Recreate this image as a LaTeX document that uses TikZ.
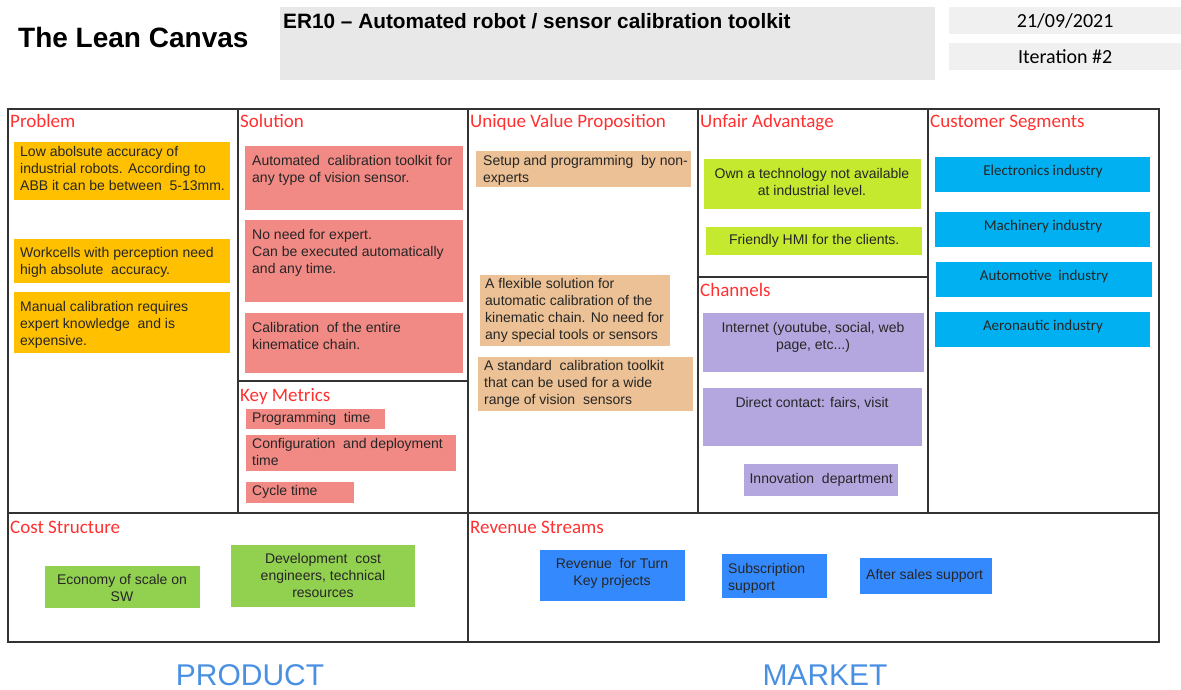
\documentclass[tikz,border=0pt]{standalone}
\usepackage{fontspec}
\setmainfont{Liberation Sans}
\newfontfamily\calib{Carlito}
\definecolor{ttl}{RGB}{255,48,48}
\definecolor{cOrange}{RGB}{255,192,0}
\definecolor{cSalmon}{RGB}{241,137,132}
\definecolor{cTan}{RGB}{235,193,149}
\definecolor{cLime}{RGB}{196,233,46}
\definecolor{cLav}{RGB}{180,167,223}
\definecolor{cCyan}{RGB}{0,176,240}
\definecolor{cGreen}{RGB}{146,208,80}
\definecolor{cBlue}{RGB}{52,137,253}
\definecolor{cHead}{RGB}{232,232,232}
\definecolor{cHeadB}{RGB}{240,240,240}
\definecolor{cSide}{RGB}{74,144,226}
% a coloured sticky note spanning (x1,y1)-(x2,y2)
\newcommand{\mkcard}[6]{\node[card,fill=#6,minimum width={(#4-#2)*1pt},minimum height={(#5-#3)*1pt}] (#1) at (#2,#3) {};}
\begin{document}
\begin{tikzpicture}[x=1pt,y=-1pt,
  card/.style={draw=none,inner sep=0,anchor=north west},
  ntxt/.style={inner sep=0,font=\fontsize{14}{17}\selectfont,text=black!85,align=left,anchor=north west},
  ctxt/.style={inner sep=0,font=\fontsize{14}{17}\selectfont,text=black!85,align=center,anchor=north},
  segtxt/.style={inner sep=0,font=\calib\fontsize{15}{17}\selectfont,text=black!85,anchor=center},
  sect/.style={inner sep=0,font=\calib\fontsize{19}{19}\selectfont,text=ttl,anchor=base west},
  gridline/.style={draw=black!80,line width=1.5pt},
  side/.style={inner sep=0,font=\fontsize{30}{30}\selectfont,text=cSide,anchor=center}]
\useasboundingbox (0,0) rectangle (1181,690);

% header
\node[inner sep=0,anchor=base west,font=\bfseries\fontsize{28}{28}\selectfont] (lean) at (18,48) {The Lean Canvas};
\node[card,fill=cHead,minimum width=655pt,minimum height=73pt] (hbox) at (280,7) {};
\node[inner sep=0,anchor=base west,font=\bfseries\fontsize{20.8}{21}\selectfont] (htitle) at (283,29) {ER10 -- Automated robot / sensor calibration toolkit};
\node[card,fill=cHeadB,minimum width=232pt,minimum height=27pt] (dbox) at (949,7) {};
\node[inner sep=0,font=\calib\fontsize{20}{20}\selectfont] (date) at (dbox.center) {21/09/2021};
\node[card,fill=cHeadB,minimum width=232pt,minimum height=27pt] (ibox) at (949,43) {};
\node[inner sep=0,font=\calib\fontsize{20}{20}\selectfont] (iter) at (ibox.center) {Iteration \#2};

% canvas grid
\draw[gridline] (8,109) rectangle (1159,642);
\draw[gridline] (8,513) -- (1159,513);
\draw[gridline] (238,109) -- (238,513);
\draw[gridline] (468,109) -- (468,642);
\draw[gridline] (698,109) -- (698,513);
\draw[gridline] (928,109) -- (928,513);
\draw[gridline] (238,381) -- (468,381);
\draw[gridline] (698,277) -- (928,277);

% section titles
\node[sect] (tProb) at (10,128) {Problem};
\node[sect] (tSol) at (240,128) {Solution};
\node[sect] (tUvp) at (470,128) {Unique Value Proposition};
\node[sect] (tUnf) at (700,128) {Unfair Advantage};
\node[sect] (tCus) at (930,128) {Customer Segments};
\node[sect] (tKey) at (240,401) {Key Metrics};
\node[sect] (tCha) at (700,296) {Channels};
\node[sect] (tCost) at (10,533) {Cost Structure};
\node[sect] (tRev) at (470,533) {Revenue Streams};

% problem
\mkcard{p1}{14}{142}{230}{200}{cOrange}
\node[ntxt] (p1t) at (20,146) {Low abolsute accuracy of\\industrial robots. According to\\ABB it can be between~ 5-13mm.};
\mkcard{p2}{14}{239}{230}{283}{cOrange}
\node[ntxt] (p2t) at (20,247) {Workcells with perception need\\high absolute~ accuracy.};
\mkcard{p3}{14}{292}{230}{353}{cOrange}
\node[ntxt] (p3t) at (20,301) {Manual calibration requires\\expert knowledge~ and is\\expensive.};

% solution
\mkcard{s1}{245}{146}{463}{210}{cSalmon}
\node[ntxt] (s1t) at (252,155) {Automated~ calibration toolkit for\\any type of vision sensor.};
\mkcard{s2}{245}{220}{463}{302}{cSalmon}
\node[ntxt] (s2t) at (252,229) {No need for expert.\\Can be executed automatically\\and any time.};
\mkcard{s3}{245}{313}{463}{373}{cSalmon}
\node[ntxt] (s3t) at (252,322) {Calibration~ of the entire\\kinematice chain.};

% key metrics
\mkcard{k1}{246}{409}{385}{429}{cSalmon}
\node[ntxt] (k1t) at (252,412) {Programming~ time};
\mkcard{k2}{246}{435}{456}{471}{cSalmon}
\node[ntxt] (k2t) at (252,438) {Configuration~ and deployment\\time};
\mkcard{k3}{246}{482}{354}{503}{cSalmon}
\node[ntxt] (k3t) at (252,485) {Cycle time};

% unique value proposition
\mkcard{u1}{476}{151}{691}{187}{cTan}
\node[ntxt] (u1t) at (483,155) {Setup and programming~ by non-\\experts};
\mkcard{u2}{480}{275}{670}{346}{cTan}
\node[ntxt] (u2t) at (485,278) {A flexible solution for\\automatic calibration of the\\kinematic chain. No need for\\any special tools or sensors};
\mkcard{u3}{478}{357}{693}{411}{cTan}
\node[ntxt] (u3t) at (484,360) {A standard~ calibration toolkit\\that can be used for a wide\\range of vision~ sensors};

% unfair advantage
\mkcard{a1}{704}{159}{921}{209}{cLime}
\node[ctxt] (a1t) at (812,168) {Own a technology not available\\at industrial level.};
\mkcard{a2}{706}{227}{922}{255}{cLime}
\node[ctxt,anchor=center] (a2t) at (a2.center) {Friendly HMI for the clients.};

% channels
\mkcard{c1}{703}{313}{924}{372}{cLav}
\node[ctxt] (c1t) at (813,322) {Internet (youtube, social, web\\page, etc...)};
\mkcard{c2}{703}{388}{922}{446}{cLav}
\node[ctxt] (c2t) at (812,397) {Direct contact: fairs, visit};
\mkcard{c3}{744}{464}{898}{496}{cLav}
\node[ctxt,anchor=center] (c3t) at (c3.center) {Innovation~ department};

% customer segments
\mkcard{g1}{935}{157}{1150}{192}{cCyan}
\node[segtxt] (g1t) at (1043,172) {Electronics industry};
\mkcard{g2}{935}{212}{1150}{247}{cCyan}
\node[segtxt] (g2t) at (1043,227) {Machinery industry};
\mkcard{g3}{936}{262}{1152}{297}{cCyan}
\node[segtxt] (g3t) at (1044,276) {Automotive~ industry};
\mkcard{g4}{935}{312}{1150}{347}{cCyan}
\node[segtxt] (g4t) at (1043,326) {Aeronautic industry};

% cost structure
\mkcard{o1}{45}{566}{200}{608}{cGreen}
\node[ctxt] (o1t) at (122,574) {Economy of scale on\\SW};
\mkcard{o2}{231}{545}{415}{607}{cGreen}
\node[ctxt] (o2t) at (323,553) {Development~ cost\\engineers, technical\\resources};

% revenue streams
\mkcard{r1}{540}{550}{685}{601}{cBlue}
\node[ctxt] (r1t) at (612,558) {Revenue~ for Turn\\Key projects};
\mkcard{r2}{722}{554}{827}{598}{cBlue}
\node[ntxt] (r2t) at (728,563) {Subscription\\support};
\mkcard{r3}{860}{558}{992}{594}{cBlue}
\node[ntxt,anchor=west] (r3t) at (866,576) {After sales support};

% side labels
\node[side] (prod) at (250,675) {PRODUCT};
\node[side] (mkt) at (825,675) {MARKET};
\end{tikzpicture}
\end{document}
